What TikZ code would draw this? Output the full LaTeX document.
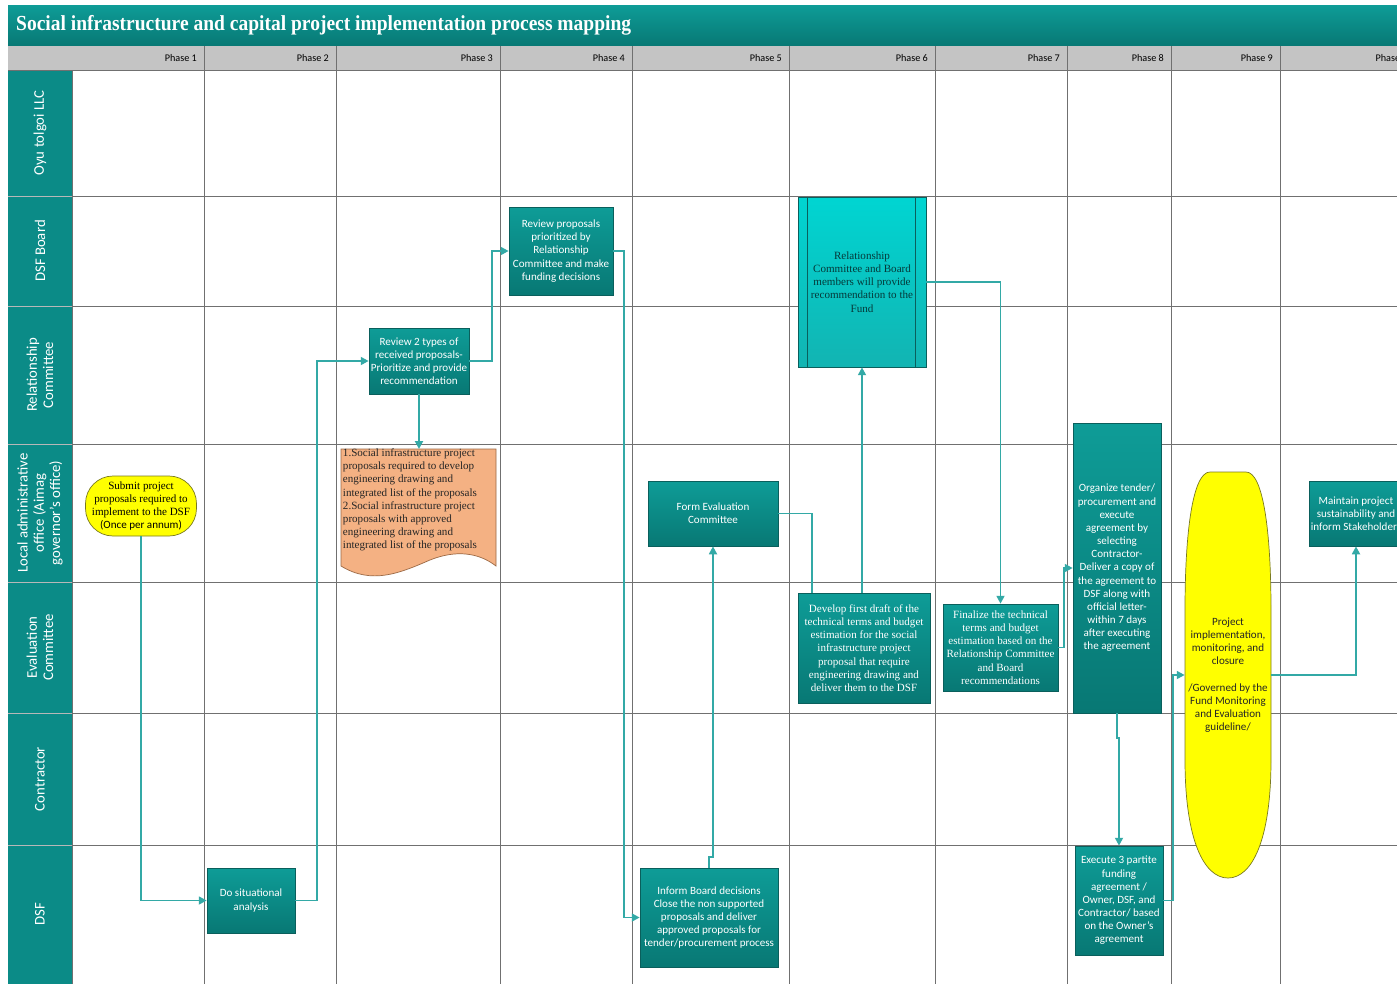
\documentclass[tikz,border=0pt]{standalone}
\usepackage{fontspec}
\setmainfont{Liberation Serif}
\setsansfont{Carlito}
\usepackage{tikz}
\usetikzlibrary{arrows.meta}

\definecolor{tealtop}{HTML}{0E9C97}
\definecolor{tealbot}{HTML}{087874}
\definecolor{tealdraw}{HTML}{0A5F5C}
\definecolor{flowc}{HTML}{33A9A6}
\definecolor{lanec}{HTML}{0B8B87}
\definecolor{hdrgray}{HTML}{C4C4C4}
\definecolor{gridc}{HTML}{707070}
\definecolor{docfill}{HTML}{F4B183}
\definecolor{docdraw}{HTML}{9C6A46}
\definecolor{yelfill}{HTML}{FFFF00}
\definecolor{yeldraw}{HTML}{7A7A20}
\definecolor{cyantop}{HTML}{00D5D2}
\definecolor{cyanbot}{HTML}{12B4B2}
\definecolor{cyantext}{HTML}{053A3A}

\newcommand\boxfont{\fontsize{6.3}{7.5}\selectfont}

\tikzset{
    procbox/.style={draw=tealdraw, top color=tealtop, bottom color=tealbot, text=white,
        font=\sffamily\boxfont, align=center, inner sep=1pt},
    serifbox/.style={procbox, font=\rmfamily\boxfont},
    flow/.style={draw=flowc, line width=1.1pt, -{Triangle[length=4.5pt,width=4.5pt]}},
    link/.style={draw=flowc, line width=1.1pt},
    lanelabel/.style={rotate=90, text=white, align=center, font=\sffamily\fontsize{8.4}{9.2}\selectfont},
}

\begin{document}
\begin{tikzpicture}[x=0.02cm, y=-0.02cm]

    \clip (0,0) rectangle (1397,984);
    \fill[white] (0,0) rectangle (1397,984);

    % Draw Title and Header
    \shade[top color=tealtop, bottom color=tealbot] (8,5) rectangle (1397,46);
    \node[anchor=west, text=white, font=\rmfamily\bfseries\fontsize{12.2}{14}\selectfont] (title) at (10,25)
        {\scalebox{0.91}[1]{Social infrastructure and capital project implementation process mapping}};
    \fill[hdrgray] (8,46) rectangle (1397,70);
    \foreach \xx/\n in {204/1, 336/2, 500/3, 632/4, 789/5, 935/6, 1067/7, 1171/8, 1280/9, 1420/10}{
        \node[anchor=east, font=\sffamily\fontsize{5.8}{7}\selectfont] (phase\n) at (\xx-1,58) {Phase \n};
    }

    % Draw Lanes
    \fill[lanec] (8,70) rectangle (72,984);
    \foreach \ya/\yb/\lbl [count=\i] in {70/196/Oyu tolgoi LLC, 196/306/DSF Board, 306/444/Relationship\\Committee,
        444/582/Local administrative\\office (Aimag\\governor’s office), 582/713/Evaluation\\Committee,
        713/845/Contractor, 845/984/DSF}{
        \node[lanelabel] (lane\i) at (40,{(\ya+\yb)/2}) {\lbl};
        \draw[gridc!50] (8,\yb) -- (72,\yb);
        \draw[gridc] (72,\yb) -- (1397,\yb);
    }

    % Draw Grid
    \draw[gridc] (8,70) -- (1397,70);
    \draw[gridc] (72,70) -- (72,984);
    \foreach \xx in {204, 336, 500, 632, 789, 935, 1067, 1171, 1280}{
        \draw[gridc] (\xx,46) -- (\xx,984);
    }

    % Add Shapes
    \draw[docdraw, fill=docfill] (341,449) -- (496,449) -- (496,566)
        .. controls (478,552) and (455,550) .. (430,560)
        .. controls (400,573) and (372,585) .. (341,566) -- cycle;
    \draw[yeldraw, fill=yelfill] (1185,610) .. controls (1185,530) and (1193,472) .. (1210,472)
        -- (1246,472) .. controls (1263,472) and (1271,530) .. (1271,610)
        -- (1271,760) .. controls (1271,840) and (1252,878) .. (1228,878)
        .. controls (1204,878) and (1185,840) .. (1185,760) -- cycle;

    % Add Boxes
    \node[draw=yeldraw, fill=yelfill, rounded corners=0.55cm, minimum width=2.22cm, minimum height=1.2cm,
        align=center, inner sep=1pt, font=\rmfamily\boxfont] (submit) at (141,506)
        {Submit project\\proposals required to\\implement to the DSF\\{\sffamily (Once per annum)}};
    \node[procbox, minimum width=1.76cm, minimum height=1.3cm] (situ) at (251,900.5) {Do situational\\analysis};
    \node[procbox, minimum width=2cm, minimum height=1.32cm] (rev2) at (419,361)
        {Review 2 types of\\received proposals-\\Prioritize and provide\\recommendation};
    \node[align=left, inner sep=1pt, font=\rmfamily\boxfont, text=black!85] (docs) at (410,500)
        {1.Social infrastructure project\\proposals required to develop\\engineering drawing and\\integrated list of the proposals\\2.Social infrastructure project\\proposals with approved\\engineering drawing and\\integrated list of the proposals};
    \node[procbox, minimum width=2.08cm, minimum height=1.76cm] (revp) at (561,251)
        {Review proposals\\prioritized by\\Relationship\\Committee and make\\funding decisions};
    \node[procbox, minimum width=2.76cm, minimum height=1.98cm] (inform) at (709,917.5)
        {Inform Board decisions\\Close the non supported\\proposals and deliver\\approved proposals for\\tender/procurement process};
    \node[procbox, minimum width=2.6cm, minimum height=1.3cm] (formev) at (713,513.5) {Form Evaluation\\Committee};
    \node[draw=tealdraw, top color=cyantop, bottom color=cyanbot, text=cyantext, align=center, inner sep=1pt,
        font=\rmfamily\boxfont, minimum width=2.56cm, minimum height=3.4cm] (relbox) at (862,282)
        {Relationship\\Committee and Board\\members will provide\\recommendation to the\\Fund};
    \draw[tealdraw] ([xshift=0.2cm]relbox.north west) -- ([xshift=0.2cm]relbox.south west);
    \draw[tealdraw] ([xshift=-0.22cm]relbox.north east) -- ([xshift=-0.22cm]relbox.south east);
    \node[serifbox, minimum width=2.64cm, minimum height=2.2cm] (draft) at (864,648)
        {Develop first draft of the\\technical terms and budget\\estimation for the social\\infrastructure project\\proposal that require\\engineering drawing and\\deliver them to the DSF};
    \node[serifbox, minimum width=2.3cm, minimum height=1.74cm] (final) at (1000.5,647.5)
        {Finalize the technical\\terms and budget\\estimation based on the\\Relationship Committee\\and Board\\recommendations};
    \node[procbox, minimum width=1.76cm, minimum height=5.8cm] (organize) at (1117,568)
        {Organize tender/\\procurement and\\execute\\agreement by\\selecting\\Contractor-\\Deliver a copy of\\the agreement to\\DSF along with\\official letter-\\within 7 days\\after executing\\the agreement};
    \node[procbox, minimum width=1.76cm, minimum height=2.18cm] (execute) at (1119,900.5)
        {Execute 3 partite\\funding\\agreement /\\Owner, DSF, and\\Contractor/ based\\on the Owner’s\\agreement};
    \node[minimum width=1.72cm, minimum height=8.12cm, align=center, inner sep=1pt, text=black!85,
        font=\sffamily\boxfont] (impl) at (1228,675)
        {Project\\implementation,\\monitoring, and\\closure\\[7.5pt]/Governed by the\\Fund Monitoring\\and Evaluation\\guideline/};
    \node[procbox, minimum width=1.84cm, minimum height=1.3cm] (maintain) at (1356,513.5)
        {Maintain project\\sustainability and\\inform Stakeholders};

    % Draw Arrows
    \draw[flow] (submit.south) |- (situ.west);
    \draw[flow] (situ.east) -- ++(22,0) |- (rev2.west);
    \draw[flow] (rev2.east) -- ++(23,0) |- (revp.west);
    \draw[flow] (rev2.south) -- (419,449);
    \draw[flow] (revp.east) -- ++(11,0) |- (inform.west);
    \draw[flow] (inform.north) -- ++(0,-11) -| (formev.south);
    \draw[link] (formev.east) -| ([xshift=0.28cm]draft.north west);
    \draw[flow] (relbox.south |- draft.north) -- (relbox.south);
    \draw[flow] (relbox.east) -| (final.north);
    \draw[flow] (final.east) -- ++(6,0) |- (organize.west);
    \draw[flow] (organize.south) -- ++(0,25) -| (execute.north);
    \draw[flow] (execute.east) -- ++(10,0) |- (impl.west);
    \draw[flow] (impl.east) -| (maintain.south);
\end{tikzpicture}
\end{document}
